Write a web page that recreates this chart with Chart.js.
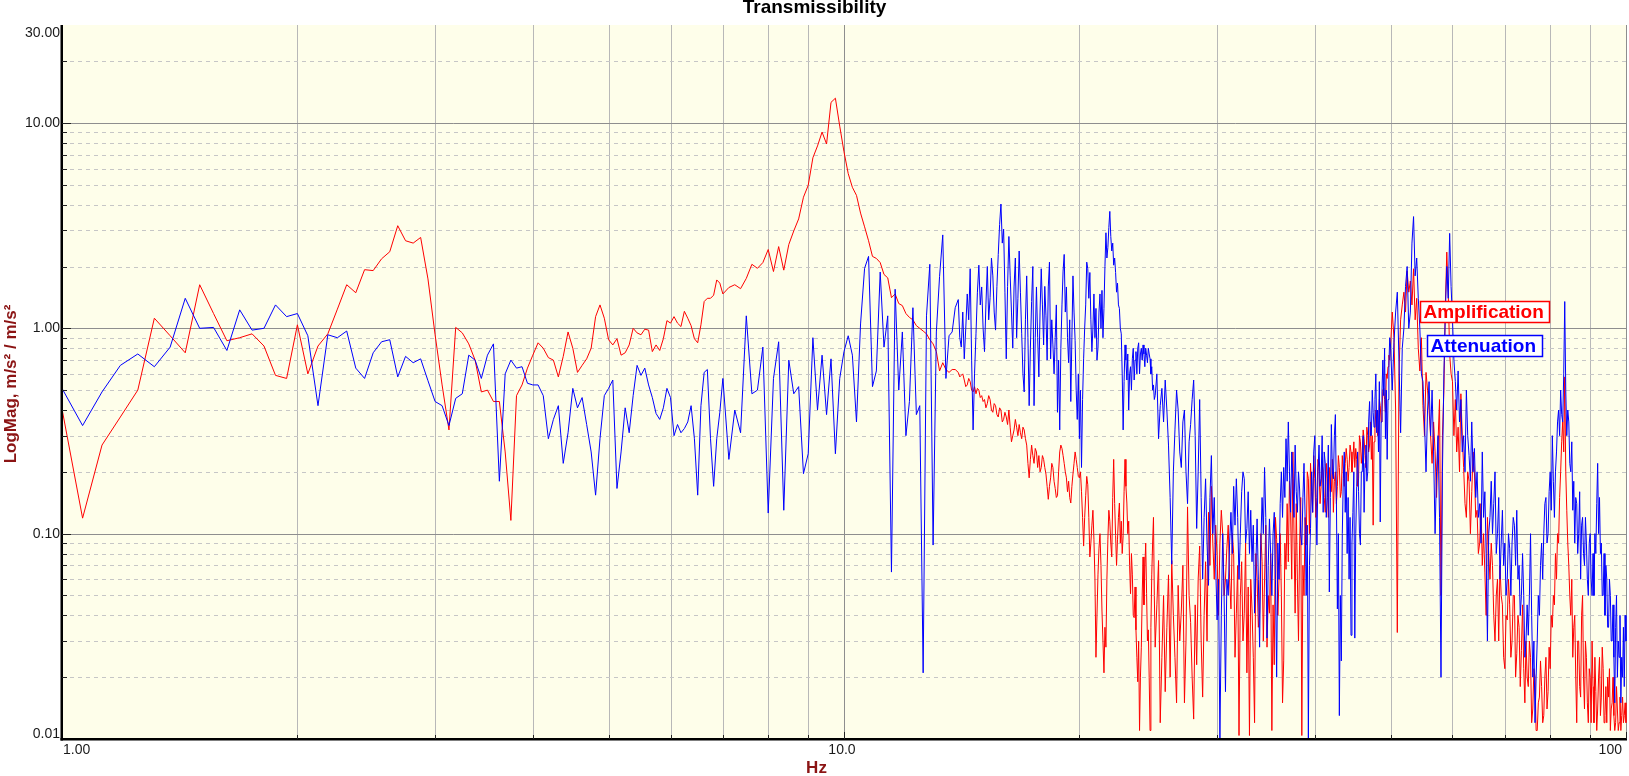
<!DOCTYPE html>
<html>
<head>
<meta charset="utf-8">
<title>Transmissibility</title>
<script src="https://cdn.jsdelivr.net/npm/chart.js@4.4.0/dist/chart.umd.min.js"></script>
<style>
    html, body { margin: 0; padding: 0; background: #ffffff; }
    .chart-wrap { position: relative; width: 1629px; height: 776px; }
</style>
</head>
<body>
<div class="chart-wrap"><canvas id="transChart"></canvas></div>
<script>
// FFT bins read per band: start frequency and step (Hz)
const bandStart = [1, 7, 14, 25, 50];
const bandStep = [0.0625, 0.125, 0.0625, 0.125, 0.25];

// Amplification (red), one array per band
const amp1 = [
    0.405, 0.119, 0.27, 0.37, 0.50, 1.12, 0.92, 0.76, 1.63, 1.18, 0.87, 0.90, 0.94, 0.82, 0.59, 0.57,
    1.04, 0.60, 0.82, 0.94, 1.24, 1.63, 1.49, 1.93, 1.91, 2.18, 2.36, 3.16, 2.67, 2.60, 2.77, 1.74,
    0.93, 0.53, 0.32, 1.01, 0.95, 0.84, 0.70, 0.49, 0.50, 0.44, 0.44, 0.25, 0.116, 0.47, 0.53, 0.64,
    0.74, 0.85, 0.80, 0.72, 0.70, 0.58, 0.73, 0.96, 0.80, 0.61, 0.66, 0.71, 0.80, 1.14, 1.30, 1.12,
    0.88, 0.83, 0.89, 0.74, 0.76, 0.83, 1.0, 0.95, 0.93, 0.99, 0.98, 0.77, 0.83, 0.78, 0.89, 1.09,
    1.06, 1.14, 1.06, 1.02, 1.21, 1.12, 1.03, 0.89, 0.85, 1.04, 1.35, 1.40, 1.40, 1.45, 1.72, 1.66
];
const amp2 = [
    1.47, 1.58, 1.63, 1.56, 1.75, 2.05, 1.96, 2.09,
    2.42, 1.89, 2.50, 1.92, 2.56, 2.98, 3.41, 4.35,
    4.97, 6.77, 7.73, 9.03, 7.9, 12.6, 13.2, 9.65,
    7.24, 5.67, 4.86, 4.44, 3.64, 3.12, 2.67, 2.24,
    2.19, 2.09, 1.83, 1.76, 1.41, 1.47, 1.32, 1.29,
    1.18, 1.13, 1.10, 1.03, 1.0, 0.97, 0.94, 0.88,
    0.84, 0.77, 0.62, 0.68, 0.63, 0.61, 0.63, 0.63
];
const amp3 = [
    0.61, 0.58, 0.59, 0.6, 0.56, 0.52, 0.53, 0.57, 0.55, 0.5, 0.49, 0.52, 0.48, 0.51, 0.50, 0.46,
    0.47, 0.44, 0.45, 0.41, 0.43, 0.47, 0.45, 0.4, 0.39, 0.43, 0.42, 0.38, 0.37, 0.41, 0.40, 0.35,
    0.36, 0.39, 0.37, 0.34, 0.40, 0.33, 0.28, 0.3, 0.32, 0.36, 0.33, 0.3, 0.34, 0.31, 0.29, 0.33,
    0.32, 0.29, 0.27, 0.22, 0.187, 0.23, 0.27, 0.24, 0.22, 0.26, 0.25, 0.21, 0.24, 0.2, 0.21, 0.24,
    0.23, 0.21, 0.195, 0.17, 0.147, 0.17, 0.187, 0.22, 0.21, 0.18, 0.166, 0.15, 0.153, 0.2, 0.25, 0.27,
    0.26, 0.24, 0.22, 0.2, 0.187, 0.16, 0.18, 0.15, 0.141, 0.17, 0.195, 0.22, 0.25, 0.23, 0.21, 0.19,
    0.187, 0.2, 0.16, 0.12, 0.087, 0.12, 0.153, 0.19, 0.173, 0.12, 0.077, 0.09, 0.11, 0.13, 0.094, 0.06,
    0.025, 0.04, 0.063, 0.085, 0.10, 0.07, 0.042, 0.03, 0.021, 0.035, 0.028, 0.06, 0.094, 0.13, 0.115, 0.09,
    0.077, 0.15, 0.23, 0.14, 0.098, 0.07, 0.094, 0.12, 0.141, 0.09, 0.115, 0.08, 0.098, 0.16, 0.23, 0.17,
    0.141, 0.1, 0.115, 0.07, 0.051, 0.08, 0.063, 0.04, 0.039, 0.055, 0.034, 0.025, 0.019, 0.03, 0.011, 0.02,
    0.028, 0.05, 0.077, 0.045, 0.068, 0.09, 0.051, 0.03, 0.034, 0.02, 0.011, 0.035, 0.063, 0.09, 0.12, 0.05
];
const amp4 = [
    0.028, 0.045, 0.074, 0.012, 0.025, 0.05, 0.017, 0.035, 0.063, 0.02, 0.074, 0.04, 0.025, 0.015, 0.056, 0.03,
    0.042, 0.07, 0.015, 0.03, 0.135, 0.05, 0.037, 0.02, 0.0125, 0.045, 0.023, 0.06, 0.087, 0.03, 0.016, 0.04,
    0.073, 0.03, 0.127, 0.07, 0.17, 0.09, 0.06, 0.11, 0.078, 0.04, 0.09, 0.13, 0.10, 0.05, 0.06, 0.085,
    0.11, 0.06, 0.043, 0.1, 0.08, 0.025, 0.041, 0.07, 0.0104, 0.05, 0.073, 0.03, 0.041, 0.09, 0.021, 0.055,
    0.0104, 0.06, 0.043, 0.025, 0.012, 0.08, 0.06, 0.035, 0.041, 0.1, 0.073, 0.03, 0.06, 0.11, 0.028, 0.05,
    0.041, 0.08, 0.011, 0.045, 0.023, 0.12, 0.094, 0.04, 0.06, 0.1, 0.05, 0.015, 0.024, 0.09, 0.067, 0.14,
    0.073, 0.18, 0.127, 0.06, 0.25, 0.1, 0.041, 0.14, 0.06, 0.03, 0.088, 0.15, 0.0104, 0.07, 0.05, 0.12,
    0.088, 0.2, 0.185, 0.1, 0.22, 0.16, 0.127, 0.24, 0.185, 0.12, 0.15, 0.23, 0.21, 0.14, 0.17, 0.22,
    0.2, 0.15, 0.127, 0.22, 0.185, 0.12, 0.21, 0.16, 0.16, 0.23, 0.127, 0.18, 0.2, 0.14, 0.17, 0.24,
    0.21, 0.15, 0.16, 0.24, 0.2, 0.17, 0.22, 0.26, 0.23, 0.18, 0.21, 0.27, 0.25, 0.2, 0.23, 0.28,
    0.21, 0.26, 0.23, 0.17, 0.185, 0.3, 0.28, 0.22, 0.25, 0.32, 0.29, 0.24, 0.21, 0.33, 0.30, 0.25,
    0.27, 0.35, 0.23, 0.3, 0.11, 0.28, 0.32, 0.4, 0.36, 0.3, 0.31, 0.45, 0.42, 0.35, 0.39, 0.5,
    0.51, 0.45, 0.39, 0.6, 0.57, 0.65, 0.74, 0.7
];
const amp5 = [
    0.82, 1.2, 0.9, 0.4, 0.033, 0.6, 1.1, 1.3, 1.5, 1.2, 1.9, 1.5, 1.7, 1.3, 1.95, 1.1, 1.4, 0.8, 0.62, 0.9,
    0.42, 0.3, 0.61, 0.5, 0.4, 0.3, 0.22, 0.35, 0.25, 0.15, 0.28, 0.45, 0.05, 0.3, 0.5, 1.3, 2.35, 1.5, 0.75, 0.6,
    0.55, 0.3, 0.45, 0.25, 0.33, 0.2, 0.48, 0.3, 0.21, 0.14, 0.12, 0.2, 0.18, 0.1, 0.16, 0.25, 0.2, 0.12, 0.13, 0.08,
    0.09, 0.14, 0.07, 0.1, 0.065, 0.04, 0.12, 0.08, 0.06, 0.09, 0.07, 0.04, 0.03, 0.05, 0.06, 0.03, 0.07, 0.05, 0.045, 0.025,
    0.022, 0.04, 0.038, 0.06, 0.045, 0.025, 0.03, 0.05, 0.05, 0.02, 0.026, 0.04, 0.035, 0.018, 0.027, 0.045, 0.022, 0.015, 0.03, 0.02,
    0.018, 0.03, 0.025, 0.012, 0.014, 0.022, 0.02, 0.011, 0.011, 0.015, 0.016, 0.024, 0.018, 0.012, 0.013, 0.02, 0.025, 0.014, 0.017, 0.028,
    0.022, 0.04, 0.035, 0.05, 0.045, 0.08, 0.06, 0.1, 0.09, 0.15, 0.2, 0.28, 0.35, 0.25, 0.58, 0.2, 0.13, 0.09, 0.07, 0.05,
    0.04, 0.06, 0.025, 0.035, 0.04, 0.02, 0.012, 0.03, 0.03, 0.018, 0.016, 0.04, 0.05, 0.02, 0.014, 0.03, 0.025, 0.015, 0.012, 0.022,
    0.02, 0.012, 0.03, 0.018, 0.012, 0.025, 0.017, 0.011, 0.014, 0.02, 0.025, 0.013, 0.016, 0.028, 0.022, 0.012, 0.013, 0.018, 0.012, 0.02,
    0.016, 0.022, 0.011, 0.014, 0.015, 0.02, 0.013, 0.011, 0.012, 0.018, 0.014, 0.011, 0.012, 0.016, 0.011, 0.013, 0.016, 0.012, 0.013, 0.015,
    0.012
];

// Attenuation (blue)
const att1 = [
    0.51, 0.336, 0.49, 0.66, 0.75, 0.65, 0.81, 1.40, 1.0, 1.01, 0.78, 1.23, 0.98, 1.0, 1.30, 1.14,
    1.18, 0.92, 0.42, 0.93, 0.90, 0.97, 0.64, 0.57, 0.76, 0.86, 0.88, 0.58, 0.73, 0.68, 0.71, 0.556,
    0.44, 0.42, 0.336, 0.456, 0.48, 0.74, 0.70, 0.57, 0.74, 0.84, 0.18, 0.60, 0.70, 0.64, 0.65, 0.54,
    0.53, 0.53, 0.47, 0.29, 0.36, 0.42, 0.22, 0.31, 0.51, 0.41, 0.46, 0.34, 0.25, 0.154, 0.29, 0.47,
    0.51, 0.56, 0.166, 0.25, 0.41, 0.31, 0.47, 0.66, 0.59, 0.64, 0.53, 0.46, 0.385, 0.36, 0.41, 0.51,
    0.46, 0.30, 0.34, 0.31, 0.325, 0.35, 0.42, 0.29, 0.154, 0.42, 0.61, 0.63, 0.29, 0.17, 0.29, 0.39
];
const att2 = [
    0.57, 0.23, 0.40, 0.31, 1.15, 0.48, 0.50, 0.81,
    0.126, 0.57, 0.86, 0.13, 0.70, 0.48, 0.52, 0.196,
    0.245, 0.90, 0.40, 0.74, 0.38, 0.71, 0.245, 0.57,
    0.77, 0.92, 0.74, 0.35, 1.05, 1.96, 2.24, 0.52,
    0.62, 1.88, 0.81, 1.15, 0.065, 1.55, 0.50, 0.96,
    0.30, 0.44, 1.26, 0.38, 0.42, 0.021, 1.15, 2.05,
    0.088, 0.96, 1.79, 2.85, 0.57, 0.92, 0.96, 1.26
];
const att3 = [
    1.38, 0.9, 0.81, 1.2, 0.71, 1.0, 1.47, 1.1, 1.95, 0.7, 0.32, 0.6, 0.94, 1.5, 2.03, 1.3,
    1.59, 1.0, 0.77, 1.3, 2.0, 1.1, 1.41, 2.2, 1.80, 1.2, 0.98, 1.6, 2.29, 3.2, 4.03, 2.6,
    3.04, 1.5, 0.71, 1.6, 2.8, 1.8, 1.2, 0.8, 1.59, 2.2, 0.90, 1.4, 2.38, 1.5, 0.94, 0.6,
    0.49, 1.1, 1.8, 0.9, 0.42, 0.8, 1.35, 2.0, 0.42, 0.9, 1.59, 0.9, 0.58, 1.2, 1.95, 1.3,
    0.83, 1.6, 1.15, 0.7, 1.59, 2.1, 0.71, 1.1, 0.83, 0.6, 0.90, 1.3, 0.39, 0.7, 0.32, 0.8,
    1.3, 1.9, 2.29, 1.2, 1.59, 0.9, 0.68, 1.1, 0.44, 0.9, 1.8, 1.2, 0.87, 0.5, 0.36, 0.6,
    0.29, 0.5, 0.21, 0.45, 0.71, 1.0, 1.3, 2.1, 1.95, 1.4, 1.87, 1.1, 0.77, 1.0, 1.47, 0.9,
    1.25, 0.7, 0.80, 1.2, 1.47, 1.0, 1.53, 0.9, 1.25, 2.0, 2.92, 2.2, 2.48, 3.1, 3.71, 2.8,
    2.38, 2.6, 2.03, 2.2, 1.87, 1.5, 1.66, 1.3, 1.25, 1.0, 0.94, 0.6, 0.32, 0.55, 0.83, 0.7,
    0.56, 0.75, 0.40, 0.6, 0.65, 0.5, 0.71, 0.8, 0.56, 0.7, 0.77, 0.6, 0.80, 0.85, 0.60, 0.75,
    0.80, 0.7, 0.83, 0.75, 0.65, 0.8, 0.74, 0.68, 0.80, 0.75, 0.71, 0.6, 0.65, 0.5, 0.53, 0.45
];
const att4 = [
    0.47, 0.6, 0.29, 0.42, 0.51, 0.35, 0.56, 0.4, 0.27, 0.15, 0.071, 0.2, 0.32, 0.5, 0.40, 0.25,
    0.21, 0.35, 0.40, 0.2, 0.14, 0.28, 0.34, 0.45, 0.56, 0.3, 0.106, 0.2, 0.45, 0.15, 0.06, 0.12,
    0.185, 0.09, 0.056, 0.15, 0.24, 0.1, 0.15, 0.07, 0.038, 0.06, 0.01, 0.04, 0.10, 0.05, 0.017, 0.06,
    0.05, 0.09, 0.127, 0.08, 0.17, 0.11, 0.185, 0.12, 0.06, 0.1, 0.16, 0.2, 0.185, 0.09, 0.106, 0.16,
    0.08, 0.13, 0.073, 0.11, 0.041, 0.07, 0.118, 0.06, 0.028, 0.09, 0.15, 0.1, 0.21, 0.12, 0.031, 0.07,
    0.118, 0.08, 0.05, 0.1, 0.127, 0.06, 0.02, 0.09, 0.06, 0.14, 0.2, 0.12, 0.21, 0.15, 0.29, 0.18,
    0.35, 0.2, 0.127, 0.25, 0.185, 0.12, 0.27, 0.16, 0.127, 0.2, 0.165, 0.1, 0.088, 0.15, 0.22, 0.12,
    0.05, 0.11, 0.01, 0.07, 0.106, 0.2, 0.127, 0.25, 0.30, 0.15, 0.088, 0.2, 0.27, 0.17, 0.185, 0.3,
    0.127, 0.25, 0.22, 0.12, 0.15, 0.27, 0.052, 0.15, 0.34, 0.2, 0.185, 0.3, 0.38, 0.15, 0.043, 0.1,
    0.013, 0.05, 0.024, 0.1, 0.185, 0.25, 0.127, 0.2, 0.08, 0.15, 0.06, 0.12, 0.032, 0.09, 0.127, 0.2,
    0.031, 0.1, 0.17, 0.25, 0.16, 0.1, 0.088, 0.2, 0.2, 0.3, 0.127, 0.22, 0.27, 0.18, 0.2, 0.35,
    0.44, 0.3, 0.30, 0.5, 0.39, 0.33, 0.45, 0.6, 0.31, 0.4, 0.25, 0.55, 0.114, 0.35, 0.49, 0.7,
    0.47, 0.8, 0.29, 0.5, 0.23, 0.45, 0.66, 0.9
];
const att5 = [
    0.82, 0.5, 0.85, 1.2, 1.5, 0.7, 0.31, 0.8, 1.0, 1.6, 2.0, 1.0, 1.2, 2.6, 3.5, 1.8, 2.2, 1.4, 1.0, 0.6,
    0.55, 0.35, 0.2, 0.4, 0.55, 0.3, 0.5, 0.25, 0.1, 0.2, 0.3, 0.12, 0.02, 0.2, 0.6, 1.2, 2.0, 1.4, 2.9, 1.6,
    1.1, 0.7, 0.55, 0.4, 0.62, 0.35, 0.45, 0.25, 0.3, 0.2, 0.5, 0.3, 0.24, 0.18, 0.35, 0.2, 0.26, 0.15, 0.2, 0.12,
    0.14, 0.09, 0.25, 0.12, 0.16, 0.08, 0.03, 0.1, 0.12, 0.18, 0.1, 0.14, 0.2, 0.08, 0.1, 0.15, 0.06, 0.09, 0.13, 0.07,
    0.09, 0.05, 0.06, 0.1, 0.085, 0.05, 0.09, 0.12, 0.11, 0.07, 0.13, 0.06, 0.07, 0.04, 0.05, 0.08, 0.05, 0.025, 0.03, 0.045,
    0.032, 0.05, 0.1, 0.04, 0.02, 0.03, 0.012, 0.02, 0.03, 0.05, 0.04, 0.07, 0.09, 0.06, 0.1, 0.14, 0.15, 0.09, 0.1, 0.16,
    0.2, 0.13, 0.3, 0.18, 0.12, 0.2, 0.25, 0.35, 0.4, 0.3, 0.5, 0.38, 0.35, 0.6, 1.35, 0.5, 0.3, 0.4, 0.35, 0.22,
    0.2, 0.28, 0.13, 0.18, 0.09, 0.15, 0.14, 0.08, 0.1, 0.16, 0.06, 0.11, 0.12, 0.08, 0.07, 0.12, 0.09, 0.06, 0.05, 0.09,
    0.1, 0.06, 0.05, 0.08, 0.05, 0.1, 0.08, 0.14, 0.22, 0.1, 0.15, 0.08, 0.09, 0.05, 0.05, 0.08, 0.04, 0.07, 0.06, 0.035,
    0.035, 0.06, 0.05, 0.03, 0.03, 0.045, 0.025, 0.015, 0.035, 0.05, 0.02, 0.03, 0.025, 0.04, 0.015, 0.025, 0.02, 0.035, 0.018, 0.04,
    0.03
];

// axis ticks and grid
const yLabelValues = [0.01, 0.1, 1, 10, 30];
const yLabelText = ['0.01', '0.10', '1.00', '10.00', '30.00'];
const yMinor = [0.02, 0.03, 0.04, 0.05, 0.06, 0.07, 0.08, 0.09, 0.2, 0.3, 0.4, 0.5, 0.6, 0.7, 0.8, 0.9,
    2, 3, 4, 5, 6, 7, 8, 9, 20];
const yMajor = [0.1, 1, 10];
const xLabelValues = [1, 10, 100];
const xLabelText = ['1.00', '10.0', '100'];
const xGrid = [2, 3, 4, 5, 6, 7, 8, 9, 10, 20, 30, 40, 50, 60, 70, 80, 90, 100];

const FONT = '"Liberation Sans", Arial, sans-serif';
const AXIS_RED = '#8b1414';

document.addEventListener('DOMContentLoaded', function() {
    initializeChart();
    });

function toPoints(bands) {
    const pts = [];
    bands.forEach((vals, b) => {
        vals.forEach((v, i) => {
            pts.push({ x: bandStart[b] + i * bandStep[b], y: v });
            });
        });
    return pts;
    }

const chartFrame = {
    id: 'chartFrame',
    beforeDatasetsDraw(chart) {
        const { ctx, chartArea: a, scales } = chart;
        const xs = scales.x, ys = scales.y;
        ctx.save();
        ctx.fillStyle = '#fefeea';
        ctx.fillRect(a.left, a.top, a.right - a.left, a.bottom - a.top);
        ctx.lineWidth = 1;
        xGrid.forEach(v => {
            const px = Math.round(xs.getPixelForValue(v)) + 0.5;
            ctx.strokeStyle = (v === 10 || v === 100) ? '#8e8e8e' : '#b8b8b8';
            ctx.beginPath();
            ctx.moveTo(px, a.top);
            ctx.lineTo(px, a.bottom);
            ctx.stroke();
            });
        ctx.setLineDash([4, 4]);
        ctx.strokeStyle = '#c6c6c6';
        yMinor.forEach(v => {
            const py = Math.round(ys.getPixelForValue(v)) + 0.5;
            ctx.beginPath();
            ctx.moveTo(a.left, py);
            ctx.lineTo(a.right, py);
            ctx.stroke();
            });
        ctx.setLineDash([]);
        ctx.strokeStyle = '#8e8e8e';
        yMajor.forEach(v => {
            const py = Math.round(ys.getPixelForValue(v)) + 0.5;
            ctx.beginPath();
            ctx.moveTo(a.left, py);
            ctx.lineTo(a.right, py);
            ctx.stroke();
            });
        ctx.restore();
        },
    afterDatasetsDraw(chart) {
        const { ctx, chartArea: a, scales } = chart;
        const xs = scales.x, ys = scales.y;
        ctx.save();
        // axes
        ctx.fillStyle = '#000';
        ctx.fillRect(a.left - 1.5, a.top, 2.5, a.bottom - a.top + 1.5);
        ctx.fillRect(a.left - 1.5, a.bottom - 1, a.right - a.left + 1.5, 2.5);
        // tick marks
        ctx.strokeStyle = '#222';
        ctx.lineWidth = 1;
        yMinor.concat(yMajor).forEach(v => {
            const py = Math.round(ys.getPixelForValue(v)) + 0.5;
            const len = yMajor.includes(v) ? 9 : 5;
            ctx.beginPath();
            ctx.moveTo(a.left, py);
            ctx.lineTo(a.left + len, py);
            ctx.stroke();
            });
        xGrid.forEach(v => {
            const px = Math.round(xs.getPixelForValue(v)) + 0.5;
            const len = (v === 10 || v === 100) ? 7 : 4;
            ctx.beginPath();
            ctx.moveTo(px, a.bottom);
            ctx.lineTo(px, a.bottom - len);
            ctx.stroke();
            });
        // tick labels
        ctx.fillStyle = '#1a1a1a';
        ctx.font = '14px ' + FONT;
        ctx.textAlign = 'right';
        ctx.textBaseline = 'middle';
        yLabelValues.forEach((v, i) => {
            let py = ys.getPixelForValue(v);
            py = Math.min(Math.max(py, a.top + 8), a.bottom - 5);
            ctx.fillText(yLabelText[i], a.left - 2, py);
            });
        ctx.textBaseline = 'top';
        xLabelValues.forEach((v, i) => {
            const px = xs.getPixelForValue(v);
            if (i === 0) {
                ctx.textAlign = 'left';
                ctx.fillText(xLabelText[i], a.left + 1, a.bottom + 4);
                }
            else if (i === xLabelValues.length - 1) {
                ctx.textAlign = 'right';
                ctx.fillText(xLabelText[i], px - 4, a.bottom + 4);
                }
            else {
                ctx.textAlign = 'center';
                ctx.fillText(xLabelText[i], px - 2, a.bottom + 4);
                }
            });
        // titles
        ctx.fillStyle = '#000';
        ctx.font = 'bold 19px ' + FONT;
        ctx.textAlign = 'center';
        ctx.textBaseline = 'middle';
        ctx.fillText('Transmissibility', chart.width / 2, 8);
        ctx.fillStyle = AXIS_RED;
        ctx.font = 'bold 17px ' + FONT;
        ctx.fillText('Hz', chart.width / 2 + 2, 768);
        ctx.save();
        ctx.translate(11, (a.top + a.bottom) / 2 + 2);
        ctx.rotate(-Math.PI / 2);
        ctx.fillText('LogMag, m/s² / m/s²', 0, 0);
        ctx.restore();
        // legend boxes
        const legend = [
            { text: 'Amplification', color: '#ff0000', x: 1420.5, y: 301.5, w: 129 },
            { text: 'Attenuation', color: '#0000ff', x: 1427.5, y: 335.5, w: 115 }
            ];
        ctx.font = 'bold 19px ' + FONT;
        ctx.textAlign = 'left';
        legend.forEach(l => {
            ctx.fillStyle = '#ffffff';
            ctx.fillRect(l.x, l.y, l.w, 21);
            ctx.strokeStyle = l.color;
            ctx.lineWidth = 1.5;
            ctx.strokeRect(l.x, l.y, l.w, 21);
            ctx.fillStyle = l.color;
            ctx.fillText(l.text, l.x + 3, l.y + 11.5);
            });
        ctx.restore();
        }
    };

function initializeChart() {
    const ctx = document.getElementById('transChart');
    new Chart(ctx, {
        type: 'line',
        data: {
            datasets: [
                {
                label: 'Attenuation',
                data: toPoints([att1, att2, att3, att4, att5]),
                borderColor: '#0000ff',
                borderWidth: 1,
                pointRadius: 0,
                tension: 0,
                fill: false
                },
                {
                label: 'Amplification',
                data: toPoints([amp1, amp2, amp3, amp4, amp5]),
                borderColor: '#ff0000',
                borderWidth: 1,
                pointRadius: 0,
                tension: 0,
                fill: false
                }
            ]},
        options: {
            responsive: true,
            maintainAspectRatio: false,
            animation: false,
            layout: { padding: { left: 62, top: 25, right: 2, bottom: 37 } },
            plugins: {
                legend: { display: false },
                title: { display: false },
                tooltip: { enabled: false }
                },
            scales: {
                x: { type: 'logarithmic', min: 1, max: 100.3, display: false },
                y: { type: 'logarithmic', min: 0.01, max: 30, display: false }
                }
            },
        plugins: [chartFrame]
        });
    }
</script>
</body>
</html>
